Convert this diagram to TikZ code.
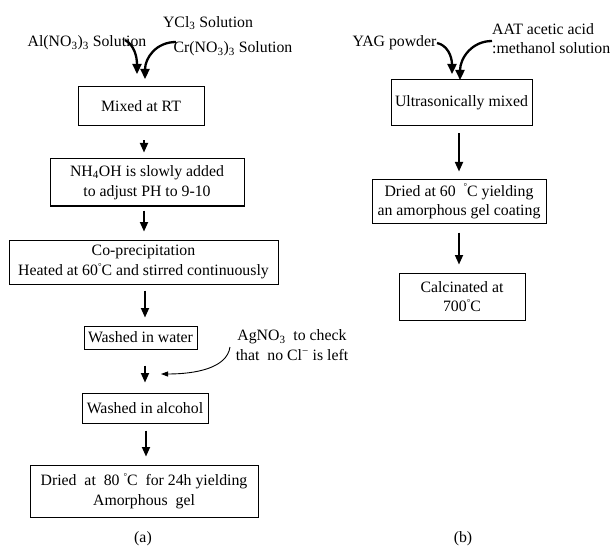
\documentclass[tikz,border=0pt]{standalone}
\usepackage{fontspec}
\setmainfont{Liberation Serif}
\usetikzlibrary{arrows.meta,calc}
\newcommand\fs{\fontsize{15.8}{19.5}\selectfont}
\newcommand\dgr{\raisebox{0.85ex}{\fontsize{9}{9}\selectfont °}}
\begin{document}
\begin{tikzpicture}[x=1pt,y=-1pt,
  box/.style={draw,line width=1pt,inner sep=0pt,align=center,font=\fs},
  lbl/.style={inner sep=0pt,align=center,font=\fs},
  arr/.style={line width=1.7pt,-{Triangle[length=9.5pt,width=8pt]}},
  carr/.style={line width=2.3pt,-{Triangle[length=10pt,width=9pt]}},
  tarr/.style={line width=0.9pt,-{Triangle[length=7pt,width=5pt]}}]
\useasboundingbox (0,0) rectangle (610,548);
% ---------- panel (a)
\node[box,minimum width=126pt,minimum height=39pt] (mix) at (141,106.5) {Mixed at RT};
\node[box,minimum width=194pt,minimum height=47pt] (nh) at (147,182.5) {NH\textsubscript{4}OH is slowly added\\to adjust PH to 9-10};
\node[box,minimum width=269pt,minimum height=44pt] (cop) at (143.5,262) {Co-precipitation\\Heated at 60\dgr C and stirred continuously};
\node[box,minimum width=113pt,minimum height=23pt] (water) at (140.5,337.5) {Washed in water};
\node[box,minimum width=126pt,minimum height=30pt] (alc) at (145,408) {Washed in alcohol};
\node[box,minimum width=228pt,minimum height=52pt] (dry) at (144,491) {Dried\ \ at\ \ 80 \dgr C\ \ for 24h yielding\\Amorphous\ \ gel};

\node[lbl] (ycl) at (208,23) {YCl\textsubscript{3} Solution};
\node[lbl] (al) at (87,43) {Al(NO\textsubscript{3})\textsubscript{3} Solution};
\node[lbl] (cr) at (233,49) {Cr(NO\textsubscript{3})\textsubscript{3} Solution};
\node[lbl] (ag) at (292,345) {AgNO\textsubscript{3}\ \ to check\\that\ \ no Cl\textsuperscript{−}\ is left};
\node[lbl] (la) at (143,539) {(a)};

\coordinate (alS) at (125,40);
\coordinate (alT) at (137,74);
\coordinate (crS) at (176,42);
\coordinate (crT) at (145,79);
\draw[carr] (alS) .. controls (134,45) and (137,56) .. (alT);
\draw[carr] (crS) .. controls (156,42) and (145,58) .. (crT);

\draw[arr] ($(mix.south)+(3,14)$) -- ($(nh.north)+(-3,-6)$);
\draw[arr] ($(nh.south)+(-3,4)$) -- ($(cop.north)+(0.5,-8)$);
\draw[arr] ($(cop.south)+(1.5,6)$) -- ($(water.north)+(4.5,-8)$);
\draw[arr] ($(water.south)+(4.5,16)$) -- ($(alc.north)+(0,-10)$);
\draw[arr] ($(alc.south)+(1,7)$) -- ($(dry.north)+(2,-8)$);

\coordinate (agS) at (230,347);
\coordinate (agT) at (161,374);
\draw[tarr] (agS) .. controls (227,368) and (196,374) .. (agT);

% ---------- panel (b)
\node[box,minimum width=141pt,minimum height=46pt] (ult) at (461.5,103) {Ultrasonically mixed};
\node[box,minimum width=174pt,minimum height=43pt] (dryb) at (459,201.5) {Dried at 60\ \ \dgr C yielding\\an amorphous gel coating};
\node[box,minimum width=126pt,minimum height=47pt] (calc) at (462,296.5) {Calcinated at\\700\dgr C};

\node[lbl] (yag) at (394.5,43) {YAG powder};
\node[lbl,align=left,anchor=west] (aat) at (492,38.5) {AAT acetic acid\\:methanol solution};
\node[lbl] (lb) at (463,539) {(b)};

\coordinate (yS) at (437,43);
\coordinate (yT) at (452,74);
\coordinate (aS) at (492,41);
\coordinate (aT) at (460,80);
\draw[carr] (yS) .. controls (447,45) and (452,56) .. (yT);
\draw[carr] (aS) .. controls (472,41) and (460,58) .. (aT);

\draw[arr] ($(ult.south)+(-2.5,7)$) -- ($(dryb.north)+(0,-8)$);
\draw[arr] ($(dryb.south)+(0,9)$) -- ($(calc.north)+(-3,-8)$);
\end{tikzpicture}
\end{document}
